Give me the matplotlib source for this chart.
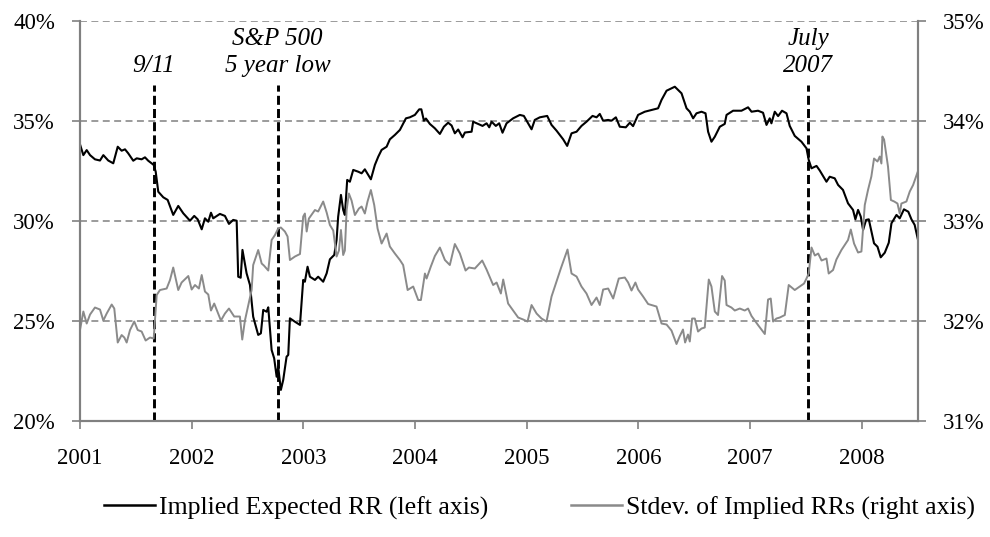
import matplotlib
matplotlib.use('Agg')
import matplotlib.pyplot as plt

#%% data (decimal years, percent)
rr_year = [2001.000, 2001.030, 2001.060, 2001.090, 2001.134, 2001.179, 2001.209, 2001.253,
           2001.298, 2001.338, 2001.373, 2001.403, 2001.432, 2001.477, 2001.508, 2001.552,
           2001.582, 2001.611, 2001.660, 2001.678, 2001.701, 2001.746, 2001.785, 2001.835,
           2001.880, 2001.925, 2001.985, 2002.023, 2002.054, 2002.090, 2002.119, 2002.149,
           2002.173, 2002.193, 2002.253, 2002.298, 2002.334, 2002.372, 2002.403, 2002.417,
           2002.439, 2002.455, 2002.492, 2002.522, 2002.551, 2002.596, 2002.620, 2002.641,
           2002.671, 2002.686, 2002.716, 2002.739, 2002.761, 2002.775, 2002.799, 2002.820,
           2002.850, 2002.865, 2002.880, 2002.925, 2002.970, 2002.999, 2003.014, 2003.038,
           2003.059, 2003.104, 2003.133, 2003.178, 2003.209, 2003.238, 2003.277, 2003.298,
           2003.312, 2003.337, 2003.357, 2003.372, 2003.393, 2003.417, 2003.447, 2003.492,
           2003.522, 2003.551, 2003.605, 2003.641, 2003.671, 2003.701, 2003.746, 2003.775,
           2003.820, 2003.865, 2003.903, 2003.919, 2003.954, 2003.999, 2004.038, 2004.057,
           2004.080, 2004.098, 2004.133, 2004.178, 2004.223, 2004.259, 2004.297, 2004.328,
           2004.357, 2004.387, 2004.426, 2004.447, 2004.507, 2004.521, 2004.566, 2004.605,
           2004.641, 2004.665, 2004.686, 2004.724, 2004.754, 2004.784, 2004.820, 2004.879,
           2004.939, 2004.975, 2005.044, 2005.073, 2005.118, 2005.184, 2005.223, 2005.268,
           2005.327, 2005.363, 2005.402, 2005.447, 2005.491, 2005.536, 2005.590, 2005.626,
           2005.655, 2005.685, 2005.730, 2005.760, 2005.799, 2005.834, 2005.888, 2005.924,
           2005.953, 2005.998, 2006.058, 2006.177, 2006.208, 2006.253, 2006.327, 2006.387,
           2006.432, 2006.461, 2006.491, 2006.521, 2006.566, 2006.602, 2006.625, 2006.655,
           2006.685, 2006.730, 2006.774, 2006.790, 2006.849, 2006.924, 2006.983, 2007.014,
           2007.072, 2007.117, 2007.148, 2007.177, 2007.192, 2007.222, 2007.252, 2007.287,
           2007.327, 2007.356, 2007.401, 2007.461, 2007.506, 2007.526, 2007.551, 2007.596,
           2007.625, 2007.685, 2007.714, 2007.759, 2007.789, 2007.833, 2007.878, 2007.923,
           2007.944, 2007.968, 2007.992, 2008.013, 2008.040, 2008.064, 2008.111, 2008.142,
           2008.171, 2008.207, 2008.243, 2008.267, 2008.312, 2008.341, 2008.379, 2008.418,
           2008.446, 2008.475, 2008.505]
rr_value = [33.81, 33.27, 33.52, 33.27, 33.06, 33.00, 33.27, 33.00,
            32.86, 33.69, 33.49, 33.56, 33.36, 32.99, 33.11, 33.06,
            33.16, 32.99, 32.78, 32.44, 31.44, 31.16, 31.03, 30.28,
            30.73, 30.36, 29.99, 30.23, 30.06, 29.56, 30.11, 29.94,
            30.39, 30.11, 30.33, 30.23, 29.83, 30.03, 29.99, 27.19,
            27.14, 28.53, 27.36, 26.78, 25.19, 24.28, 24.36, 25.53,
            25.44, 25.66, 23.53, 23.11, 22.19, 22.69, 21.53, 22.03,
            23.19, 23.28, 25.11, 24.94, 24.78, 27.03, 26.94, 27.69,
            27.19, 27.03, 27.19, 26.94, 27.36, 28.06, 28.28, 29.03,
            30.19, 31.28, 30.53, 30.28, 32.03, 31.94, 32.53, 32.44,
            32.36, 32.56, 32.06, 32.78, 33.19, 33.53, 33.69, 34.06,
            34.28, 34.53, 34.94, 35.11, 35.16, 35.28, 35.56, 35.56,
            34.99, 35.10, 34.83, 34.61, 34.33, 34.69, 34.89, 34.75,
            34.36, 34.55, 34.16, 34.40, 34.44, 34.94, 34.83, 34.73,
            34.86, 34.66, 34.94, 34.73, 34.86, 34.39, 34.86, 35.11,
            35.28, 35.23, 34.56, 35.03, 35.16, 35.23, 34.78, 34.49,
            34.06, 33.73, 34.36, 34.44, 34.73, 34.94, 35.23, 35.16,
            35.33, 34.99, 35.03, 34.99, 35.16, 34.69, 34.66, 34.89,
            34.72, 35.28, 35.44, 35.61, 36.03, 36.49, 36.69, 36.36,
            35.61, 35.44, 35.11, 35.36, 35.44, 35.36, 34.44, 33.94,
            34.19, 34.69, 34.83, 35.28, 35.49, 35.49, 35.66, 35.44,
            35.49, 35.39, 34.78, 35.11, 34.86, 35.44, 35.22, 35.49,
            35.36, 34.73, 34.23, 33.94, 33.61, 33.03, 32.61, 32.73,
            32.50, 31.94, 32.19, 32.11, 31.78, 31.53, 30.86, 30.53,
            30.06, 30.53, 30.20, 29.53, 30.03, 30.06, 28.86, 28.69,
            28.16, 28.39, 28.89, 29.86, 30.28, 30.11, 30.56, 30.44,
            30.06, 29.78, 29.03]

sd_year = [2001.000, 2001.030, 2001.060, 2001.090, 2001.134, 2001.179, 2001.209, 2001.239,
           2001.284, 2001.307, 2001.338, 2001.373, 2001.397, 2001.418, 2001.448, 2001.486,
           2001.517, 2001.552, 2001.588, 2001.627, 2001.660, 2001.687, 2001.716, 2001.776,
           2001.806, 2001.835, 2001.880, 2001.910, 2001.970, 2002.000, 2002.030, 2002.065,
           2002.090, 2002.119, 2002.149, 2002.173, 2002.202, 2002.262, 2002.298, 2002.334,
           2002.381, 2002.432, 2002.453, 2002.477, 2002.507, 2002.537, 2002.551, 2002.596,
           2002.627, 2002.647, 2002.671, 2002.686, 2002.716, 2002.746, 2002.775, 2002.799,
           2002.835, 2002.859, 2002.880, 2002.925, 2002.970, 2002.999, 2003.014, 2003.030,
           2003.050, 2003.104, 2003.133, 2003.178, 2003.209, 2003.238, 2003.268, 2003.298,
           2003.319, 2003.337, 2003.357, 2003.372, 2003.388, 2003.408, 2003.432, 2003.462,
           2003.498, 2003.522, 2003.551, 2003.575, 2003.605, 2003.635, 2003.665, 2003.701,
           2003.746, 2003.775, 2003.820, 2003.865, 2003.894, 2003.934, 2003.984, 2004.029,
           2004.053, 2004.089, 2004.104, 2004.142, 2004.178, 2004.223, 2004.268, 2004.312,
           2004.357, 2004.402, 2004.453, 2004.483, 2004.536, 2004.602, 2004.641, 2004.700,
           2004.731, 2004.769, 2004.790, 2004.834, 2004.879, 2004.924, 2004.969, 2005.008,
           2005.044, 2005.089, 2005.133, 2005.178, 2005.223, 2005.268, 2005.306, 2005.366,
           2005.402, 2005.447, 2005.491, 2005.536, 2005.581, 2005.626, 2005.655, 2005.685,
           2005.730, 2005.775, 2005.825, 2005.879, 2005.909, 2005.939, 2005.974, 2005.998,
           2006.043, 2006.088, 2006.163, 2006.208, 2006.253, 2006.297, 2006.342, 2006.370,
           2006.400, 2006.419, 2006.445, 2006.461, 2006.482, 2006.506, 2006.535, 2006.566,
           2006.595, 2006.631, 2006.655, 2006.685, 2006.714, 2006.750, 2006.774, 2006.790,
           2006.834, 2006.864, 2006.909, 2006.953, 2006.983, 2007.014, 2007.072, 2007.133,
           2007.162, 2007.186, 2007.207, 2007.237, 2007.267, 2007.312, 2007.347, 2007.401,
           2007.446, 2007.484, 2007.506, 2007.526, 2007.551, 2007.581, 2007.611, 2007.641,
           2007.685, 2007.705, 2007.744, 2007.774, 2007.819, 2007.878, 2007.903, 2007.932,
           2007.968, 2007.998, 2008.028, 2008.057, 2008.087, 2008.111, 2008.142, 2008.162,
           2008.177, 2008.186, 2008.201, 2008.236, 2008.262, 2008.292, 2008.321, 2008.341,
           2008.356, 2008.401, 2008.431, 2008.461, 2008.500]
sd_value = [31.905, 32.09, 31.97, 32.06, 32.13, 32.11, 32.00, 32.07,
            32.16, 32.12, 31.78, 31.855, 31.83, 31.78, 31.905, 31.99,
            31.905, 31.89, 31.80, 31.83, 31.82, 32.255, 32.305, 32.32,
            32.405, 32.53, 32.305, 32.38, 32.445, 32.31, 32.355, 32.32,
            32.455, 32.29, 32.26, 32.10, 32.17, 32.00, 32.07, 32.12,
            32.04, 32.04, 31.81, 32.00, 32.155, 32.305, 32.555, 32.705,
            32.57, 32.55, 32.52, 32.50, 32.805, 32.855, 32.92, 32.93,
            32.89, 32.84, 32.605, 32.64, 32.665, 33.04, 33.07, 32.89,
            33.02, 33.105, 33.09, 33.19, 33.08, 32.955, 32.90, 32.64,
            32.70, 32.905, 32.655, 32.70, 33.105, 33.27, 33.20, 33.055,
            33.12, 33.14, 33.07, 33.19, 33.305, 33.155, 32.92, 32.77,
            32.87, 32.74, 32.67, 32.605, 32.555, 32.305, 32.34, 32.205,
            32.205, 32.47, 32.42, 32.54, 32.645, 32.73, 32.605, 32.555,
            32.765, 32.67, 32.50, 32.53, 32.52, 32.60, 32.51, 32.355,
            32.38, 32.27, 32.41, 32.17, 32.10, 32.03, 32.01, 31.99,
            32.155, 32.07, 32.02, 31.99, 32.24, 32.39, 32.52, 32.71,
            32.47, 32.44, 32.34, 32.27, 32.155, 32.23, 32.155, 32.31,
            32.32, 32.22, 32.42, 32.43, 32.38, 32.30, 32.38, 32.31,
            32.24, 32.165, 32.14, 31.97, 31.96, 31.90, 31.765, 31.84,
            31.91, 31.78, 31.86, 31.79, 32.02, 32.02, 31.89, 31.92,
            31.93, 32.41, 32.34, 32.09, 32.055, 32.445, 32.40, 32.155,
            32.13, 32.10, 32.12, 32.10, 32.12, 32.045, 31.955, 31.865,
            32.21, 32.22, 31.99, 32.02, 32.03, 32.055, 32.355, 32.305,
            32.34, 32.37, 32.42, 32.47, 32.73, 32.65, 32.67, 32.60,
            32.62, 32.47, 32.505, 32.61, 32.705, 32.805, 32.91, 32.77,
            32.68, 32.69, 33.155, 33.305, 33.44, 33.62, 33.59, 33.64,
            33.57, 33.84, 33.81, 33.54, 33.205, 33.19, 33.17, 33.07,
            33.17, 33.19, 33.29, 33.355, 33.48]

event_year = [2001.66, 2002.77, 2007.52]
event_label = [['9/11'], ['S&P 500', '5 year low'], ['July', '2007']]

left_ticks = [20, 25, 30, 35, 40]
right_ticks = [31, 32, 33, 34, 35]
year_ticks = [2001, 2002, 2003, 2004, 2005, 2006, 2007, 2008]

#%% figure
plt.rcParams['font.family'] = ['Liberation Serif', 'DejaVu Serif']
plt.rcParams['lines.scale_dashes'] = False
grey = '#808080'

fig = plt.figure(figsize=(9.9, 5.37), dpi=100)
ax = fig.add_axes([0.0808, 0.2169, 0.8465, 0.7449])
ax2 = ax.twinx()

# gridlines (left axis)
for t in left_ticks[1:]:
    ax.axhline(t, color=grey, lw=1.1, ls=(0, (5, 3.2)), zorder=1)

ax.plot(rr_year, rr_value, color='black', lw=1.5, zorder=3)
ax2.plot(sd_year, sd_value, color='#8a8a8a', lw=1.4, zorder=2)

# event lines and labels (baselines of the lines of text, in left-axis units)
base_y = [38.775, 37.425]
for x, lines in zip(event_year, event_label):
    ax.plot([x, x], [20, 36.78], color='black', lw=2.1, ls=(0, (6.5, 3)), zorder=4)
    for lab, yb in zip(lines, base_y[-len(lines):]):
        ax.text(x, yb, lab, ha='center', va='baseline', fontsize=18, style='italic')

ax.set_xlim(2001, 2008.505)
ax.set_ylim(20, 40)
ax2.set_ylim(31, 35)
ax.set_xticks(year_ticks)
ax.set_xticklabels([str(y) for y in year_ticks])
ax.set_yticks(left_ticks)
ax.set_yticklabels(['%d%%' % t for t in left_ticks])
ax2.set_yticks(right_ticks)
ax2.set_yticklabels(['%d%%' % t for t in right_ticks])

for a in (ax, ax2):
    for s in ['left', 'right', 'bottom']:
        a.spines[s].set_color(grey)
        a.spines[s].set_linewidth(1.5)
    a.spines['top'].set_visible(False)
    a.tick_params(colors=grey, width=1.2, length=6, labelsize=16.5, labelcolor='black',
                  direction='out')
ax.tick_params(axis='y', pad=12)
ax2.tick_params(axis='y', pad=12)
ax.tick_params(axis='x', pad=14)

# legend
h1, = ax.plot([], [], color='black', lw=1.8, label='Implied Expected RR (left axis)')
h2, = ax.plot([], [], color='#8a8a8a', lw=1.8, label='Stdev. of Implied RRs (right axis)')
fig.legend(handles=[h1, h2], loc='center', bbox_to_anchor=(0.545, 1 - 508 / 537), ncol=2,
           frameon=False, fontsize=18.5, handlelength=2.0, handletextpad=0.15,
           columnspacing=3.2)

fig.savefig('out.png', dpi=100)
